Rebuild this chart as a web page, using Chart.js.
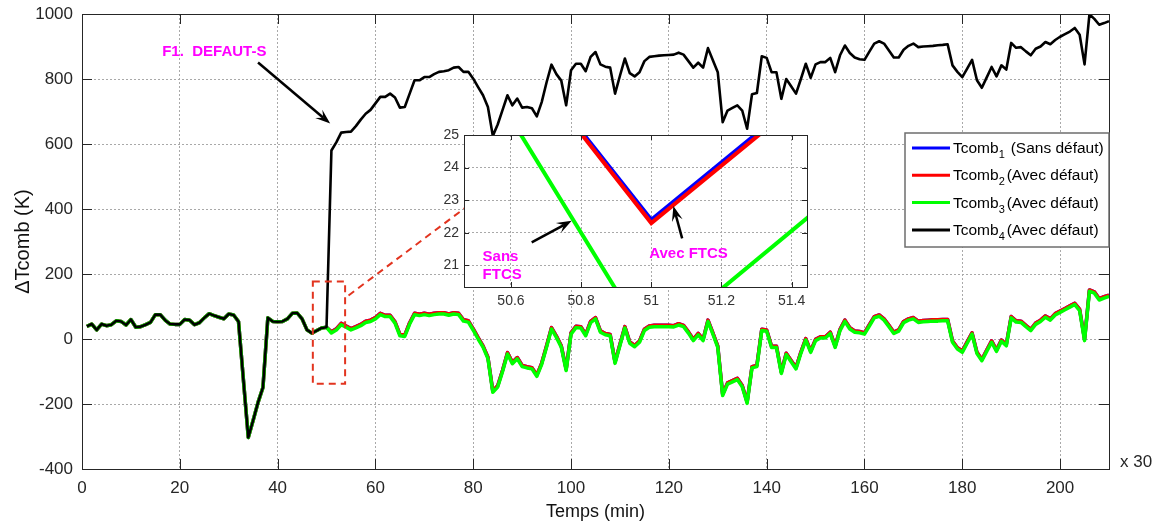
<!DOCTYPE html>
<html>
<head>
<meta charset="UTF-8">
<title>ΔTcomb</title>
<script src="https://cdn.jsdelivr.net/npm/chart.js"></script>
<style>
    body { margin: 0; background: #fff; }
    #cadre { position: relative; width: 1164px; height: 524px; }
    #principal { position: absolute; left: 0; top: 0; }
    #loupe { position: absolute; left: 400px; top: 120px; }
</style>
</head>
<body>
<div id="cadre">
    <canvas id="principal" width="1164" height="524"></canvas>
    <canvas id="loupe" width="430" height="200"></canvas>
</div>
<script>
// Pas de temps 1..210 (x 30 min)
const premierPas = 1;

// Valeurs communes aux quatre tcomb avant le défaut (pas 1..50)
const avantDefaut = [
    39, 46, 28, 46, 41, 44, 56, 54, 43, 60,
    36, 38, 44, 51, 75, 75, 58, 46, 45, 45,
    60, 58, 44, 50, 65, 78, 72, 67, 62, 77,
    74, 54, -125, -303, -250, -195, -149, 65, 54, 53,
    54, 62, 79, 80, 62, 28, 18, 26, 34, 36
];

// Pas 51..210
const tcomb1Apres = [
    22.4, 31.2, 48, 40, 32, 38, 45, 55, 58, 66,
    79, 73, 73, 53, 14, 12, 50, 79, 76, 79,
    76, 79, 81, 81, 77, 81, 79, 59, 56, 31,
    4, -21, -56, -160, -144, -96, -42, -72, -57, -81,
    -85, -88, -111, -74, -21, 35, 9, -21, -93, 19,
    39, 38, 14, 54, 66, 25, 17, 14, -71, -16,
    38, -9, -20, -6, 30, 40, 42, 42, 42, 42,
    41, 47, 42, 22, -1, 17, -1, 58, 19, -22,
    -170, -135, -128, -121, -143, -194, -85, -81, 30, 28,
    -22, -22, -102, -44, -66, -88, -40, 1, -37, -1,
    7, 7, 21, -22, 30, 58, 35, 25, 23, 19,
    44, 69, 74, 62, 42, 21, 28, 54, 62, 66,
    55, 57, 58, 59, 59, 60, 60, -6, -27, -37,
    -9, 19, -41, -63, -34, -6, -34, -3, -17, 69,
    56, 55, 42, 30, 49, 58, 71, 62, 78, 86,
    94, 102, 110, 91, -1, 151, 145, 124, 130, 135
];
const tcomb2Apres = [
    22.3, 31.1, 48, 40, 32, 38, 45, 55, 58, 66,
    79, 73, 73, 53, 14, 12, 50, 79, 76, 79,
    76, 79, 81, 81, 77, 81, 79, 59, 56, 31,
    4, -21, -56, -160, -144, -96, -42, -72, -57, -81,
    -85, -88, -111, -74, -21, 35, 9, -21, -93, 19,
    39, 38, 14, 54, 66, 25, 17, 14, -71, -16,
    38, -9, -20, -6, 30, 40, 42, 42, 42, 42,
    41, 47, 42, 22, -1, 17, -1, 58, 19, -22,
    -170, -135, -128, -121, -143, -194, -85, -81, 30, 28,
    -22, -22, -102, -44, -66, -88, -40, 1, -37, -1,
    7, 7, 21, -22, 30, 58, 35, 25, 23, 19,
    44, 69, 74, 62, 42, 21, 28, 54, 62, 66,
    55, 57, 58, 59, 59, 60, 60, -6, -27, -37,
    -9, 19, -41, -63, -34, -6, -34, -3, -17, 69,
    56, 55, 42, 30, 49, 58, 71, 62, 78, 86,
    94, 102, 110, 91, -1, 151, 145, 124, 130, 135
];
const tcomb3Apres = [
    18.5, 27.4, 44, 36, 28, 34, 41, 51, 54, 62,
    75, 69, 69, 49, 10, 8, 46, 75, 72, 75,
    72, 75, 77, 77, 73, 77, 75, 55, 52, 27,
    0, -25, -60, -164, -148, -100, -46, -76, -61, -85,
    -89, -92, -115, -78, -25, 31, 5, -25, -97, 15,
    35, 34, 10, 50, 62, 21, 13, 10, -75, -20,
    34, -13, -24, -10, 26, 36, 38, 38, 38, 38,
    37, 43, 38, 18, -5, 13, -5, 54, 15, -26,
    -174, -139, -132, -125, -147, -198, -89, -85, 26, 24,
    -26, -26, -106, -48, -70, -92, -44, -3, -41, -5,
    3, 3, 17, -26, 26, 54, 31, 21, 19, 15,
    40, 65, 70, 58, 38, 17, 24, 50, 58, 62,
    51, 53, 54, 55, 55, 56, 56, -10, -31, -41,
    -13, 15, -45, -67, -38, -10, -38, -7, -21, 65,
    52, 51, 38, 26, 45, 54, 67, 58, 74, 82,
    90, 98, 106, 87, -5, 147, 141, 120, 126, 131
];
const tcomb4Apres = [
    580, 605, 635, 637, 638, 655, 675, 693, 705, 725,
    745, 745, 755, 743, 712, 714, 755, 796, 796, 806,
    806, 815, 822, 824, 827, 835, 837, 822, 822, 801,
    775, 750, 714, 625, 660, 705, 750, 719, 740, 712,
    714, 710, 685, 729, 790, 844, 815, 795, 719, 827,
    847, 847, 824, 868, 883, 845, 838, 835, 755, 810,
    863, 818, 808, 821, 855, 868, 870, 872, 873, 874,
    875, 881, 875, 855, 835, 850, 835, 895, 858, 821,
    667, 703, 711, 719, 703, 647, 753, 757, 870, 865,
    821, 821, 739, 800, 778, 755, 800, 847, 804, 845,
    852, 852, 865, 821, 873, 903, 880, 866, 861, 859,
    884, 909, 916, 909, 888, 866, 866, 890, 902, 909,
    898, 900, 901, 902, 904, 905, 907, 842, 822, 806,
    832, 859, 796, 773, 805, 837, 808, 842, 829, 911,
    896, 898, 885, 873, 893, 900, 914, 907, 920, 930,
    938, 946, 957, 936, 845, 999, 985, 967, 972, 978
];

const etats = ['(Sans défaut)', '(Avec défaut)', '(Avec défaut)', '(Avec défaut)'];
const couleurs = ['#0000ff', '#ff0000', '#00ff00', '#000000'];

const ticksX = [0, 20, 40, 60, 80, 100, 120, 140, 160, 180, 200];
const ticksY = [-400, -200, 0, 200, 400, 600, 800, 1000];
const ticksXLoupe = [50.6, 50.8, 51, 51.2, 51.4];
const ticksYLoupe = [21, 22, 23, 24, 25];

const series = [
    avantDefaut.concat(tcomb1Apres),
    avantDefaut.concat(tcomb2Apres),
    avantDefaut.concat(tcomb3Apres),
    avantDefaut.concat(tcomb4Apres)
];

function enPoints(valeurs) {
    return valeurs.map((v, i) => ({ x: premierPas + i, y: v }));
}

const police = "'Liberation Sans', Arial, Helvetica, sans-serif";
Chart.defaults.font.family = police;

// ---- petites fonctions de dessin ----
function fleche(ctx, x0, y0, x1, y1) {
    const a = Math.atan2(y1 - y0, x1 - x0);
    const c = Math.cos(a), s = Math.sin(a);
    const L = 15, W = 5.5;
    ctx.save();
    ctx.strokeStyle = '#000';
    ctx.fillStyle = '#000';
    ctx.lineWidth = 2.5;
    ctx.beginPath();
    ctx.moveTo(x0, y0);
    ctx.lineTo(x1 - c * L * 0.6, y1 - s * L * 0.6);
    ctx.stroke();
    ctx.beginPath();
    ctx.moveTo(x1, y1);
    ctx.lineTo(x1 - c * L + s * W, y1 - s * L - c * W);
    ctx.lineTo(x1 - c * L * 0.6, y1 - s * L * 0.6);
    ctx.lineTo(x1 - c * L - s * W, y1 - s * L + c * W);
    ctx.closePath();
    ctx.fill();
    ctx.restore();
}

// cadre fermé + graduations vers l'intérieur
function cadre(chart, longueur) {
    const { ctx, chartArea: a, scales } = chart;
    ctx.save();
    ctx.strokeStyle = '#262626';
    ctx.lineWidth = 1;
    ctx.strokeRect(a.left + 0.5, a.top + 0.5, a.right - a.left, a.bottom - a.top);
    ctx.beginPath();
    scales.x.ticks.forEach(t => {
        const px = Math.round(scales.x.getPixelForValue(t.value)) + 0.5;
        ctx.moveTo(px, a.bottom); ctx.lineTo(px, a.bottom - longueur);
        ctx.moveTo(px, a.top); ctx.lineTo(px, a.top + longueur);
    });
    scales.y.ticks.forEach(t => {
        const py = Math.round(scales.y.getPixelForValue(t.value)) + 0.5;
        ctx.moveTo(a.left, py); ctx.lineTo(a.left + longueur, py);
        ctx.moveTo(a.right, py); ctx.lineTo(a.right - longueur, py);
    });
    ctx.stroke();
    ctx.restore();
}

function texteMagenta(ctx, txt, x, y) {
    ctx.save();
    ctx.font = 'bold 15px ' + police;
    ctx.fillStyle = '#ff00ff';
    ctx.textBaseline = 'middle';
    ctx.textAlign = 'left';
    ctx.fillText(txt, x, y);
    ctx.restore();
}

// largeur fixe de l'axe vertical, sans marge de débordement des étiquettes
function axeVertical(largeur) {
    return s => { s.width = largeur; s.paddingTop = 0; s.paddingBottom = 0; };
}

// ---- graphique principal ----
const zoneLoupe = { t0: 47.2, t1: 53.8, v0: -138, v1: 177 };
const liaison = { t0: 54.5, v0: 134, t1: 78.2, v1: 402 };
const defaut = { texte: 'F1.  DEFAUT-S', tTexte: 16.4, vTexte: 885, t0: 36.0, v0: 851, t1: 50.75, v1: 663 };

const decorPrincipal = {
    id: 'decorPrincipal',
    afterDatasetsDraw(chart) {
        const { ctx, chartArea: a, scales: { x, y } } = chart;
        cadre(chart, 10);

        // rectangle de la zone agrandie et trait de liaison
        ctx.save();
        ctx.strokeStyle = '#e2341f';
        ctx.lineWidth = 2;
        ctx.setLineDash([7, 5]);
        const rx0 = x.getPixelForValue(zoneLoupe.t0), rx1 = x.getPixelForValue(zoneLoupe.t1);
        const ry0 = y.getPixelForValue(zoneLoupe.v1), ry1 = y.getPixelForValue(zoneLoupe.v0);
        ctx.strokeRect(rx0, ry0, rx1 - rx0, ry1 - ry0);
        ctx.beginPath();
        ctx.moveTo(x.getPixelForValue(liaison.t0), y.getPixelForValue(liaison.v0));
        ctx.lineTo(x.getPixelForValue(liaison.t1), y.getPixelForValue(liaison.v1));
        ctx.stroke();
        ctx.restore();

        // annotation du défaut
        texteMagenta(ctx, defaut.texte, x.getPixelForValue(defaut.tTexte), y.getPixelForValue(defaut.vTexte));
        fleche(ctx, x.getPixelForValue(defaut.t0), y.getPixelForValue(defaut.v0),
            x.getPixelForValue(defaut.t1), y.getPixelForValue(defaut.v1));

        // multiplicateur de l'axe des temps
        ctx.save();
        ctx.font = '17px ' + police;
        ctx.fillStyle = '#262626';
        ctx.textBaseline = 'middle';
        ctx.fillText('x 30', a.right + 11, a.bottom - 7);
        ctx.restore();

        // légende
        const lw = 204, lh = 114;
        const lx = a.right - lw, ly = a.top + 119;
        ctx.save();
        ctx.fillStyle = '#fff';
        ctx.fillRect(lx, ly, lw, lh);
        ctx.strokeStyle = '#6e6e6e';
        ctx.lineWidth = 1.5;
        ctx.strokeRect(lx, ly, lw, lh);
        ctx.beginPath();
        ctx.rect(lx, ly, lw - 1, lh);
        ctx.clip();
        chart.data.datasets.forEach((ds, i) => {
            const cy = ly + 15 + i * 27.3;
            ctx.strokeStyle = ds.borderColor;
            ctx.lineWidth = 3;
            ctx.beginPath();
            ctx.moveTo(lx + 7, cy);
            ctx.lineTo(lx + 45, cy);
            ctx.stroke();
            ctx.fillStyle = '#000';
            ctx.textBaseline = 'alphabetic';
            ctx.font = '15.5px ' + police;
            ctx.fillText('Tcomb', lx + 48, cy + 5);
            const w = ctx.measureText('Tcomb').width;
            ctx.font = '11px ' + police;
            ctx.fillText(String(i + 1), lx + 48 + w, cy + 10);
            ctx.font = '15.5px ' + police;
            ctx.fillText(ds.label, lx + 48 + w + (i === 0 ? 12 : 8), cy + 5);
        });
        ctx.restore();
    }
};

const grille = { color: '#a9a9a9', lineWidth: 1, drawTicks: false };
const bordure = { display: false, dash: [2, 2] };

new Chart(document.getElementById('principal'), {
    type: 'line',
    data: {
        datasets: series.map((s, i) => ({
            label: etats[i],
            data: enPoints(s),
            borderColor: couleurs[i],
            backgroundColor: couleurs[i],
            borderWidth: i === 3 ? 2.6 : 3.5,
            borderJoinStyle: 'round',
            order: 3 - i
        }))
    },
    options: {
        responsive: false,
        animation: false,
        layout: { padding: { left: 0, top: 14, right: 55, bottom: 0 } },
        elements: { point: { radius: 0 }, line: { tension: 0 } },
        plugins: { legend: { display: false }, tooltip: { enabled: false } },
        scales: {
            x: {
                type: 'linear', min: 0, max: 210,
                afterFit: s => { s.height = 55; },
                afterBuildTicks: s => { s.ticks = ticksX.map(v => ({ value: v })); },
                grid: grille, border: bordure,
                ticks: { padding: 9, color: '#262626', font: { size: 17 }, maxRotation: 0, autoSkip: false, callback: v => String(v) },
                title: { display: true, text: 'Temps (min)', color: '#111', font: { size: 18 }, padding: { top: 0, bottom: 1 } }
            },
            y: {
                min: -400, max: 1000,
                afterFit: axeVertical(82),
                afterBuildTicks: s => { s.ticks = ticksY.map(v => ({ value: v })); },
                grid: grille, border: bordure,
                ticks: { padding: 9, color: '#262626', font: { size: 17 }, autoSkip: false, callback: v => String(v) },
                title: { display: true, text: 'ΔTcomb (K)', color: '#111', font: { size: 20 }, padding: { top: 11, bottom: 0 } }
            }
        }
    },
    plugins: [decorPrincipal]
});

// ---- agrandissement autour du pas 51 ----
const notesLoupe = {
    sans: { x: 50.519, y1: 21.27, y2: 20.71 },
    flecheSans: { x0: 50.659, y0: 21.71, x1: 50.773, y1: 22.37 },
    avec: { x: 50.994, y: 21.37 },
    flecheAvec: { x0: 51.088, y0: 21.83, x1: 51.063, y1: 22.82 }
};

const decorLoupe = {
    id: 'decorLoupe',
    beforeDraw(chart) {
        const { ctx, chartArea: a } = chart;
        ctx.save();
        ctx.fillStyle = '#fff';
        ctx.fillRect(a.left, a.top, a.right - a.left, a.bottom - a.top);
        ctx.restore();
    },
    afterDatasetsDraw(chart) {
        const { ctx, scales: { x, y } } = chart;
        cadre(chart, 5);
        const n = notesLoupe;
        texteMagenta(ctx, 'Sans', x.getPixelForValue(n.sans.x), y.getPixelForValue(n.sans.y1));
        texteMagenta(ctx, 'FTCS', x.getPixelForValue(n.sans.x), y.getPixelForValue(n.sans.y2));
        fleche(ctx, x.getPixelForValue(n.flecheSans.x0), y.getPixelForValue(n.flecheSans.y0),
            x.getPixelForValue(n.flecheSans.x1), y.getPixelForValue(n.flecheSans.y1));
        texteMagenta(ctx, 'Avec FTCS', x.getPixelForValue(n.avec.x), y.getPixelForValue(n.avec.y));
        fleche(ctx, x.getPixelForValue(n.flecheAvec.x0), y.getPixelForValue(n.flecheAvec.y0),
            x.getPixelForValue(n.flecheAvec.x1), y.getPixelForValue(n.flecheAvec.y1));
    }
};

new Chart(document.getElementById('loupe'), {
    type: 'line',
    data: {
        datasets: series.slice(0, 3).map((s, i) => ({
            label: etats[i],
            data: enPoints(s),
            borderColor: couleurs[i],
            borderWidth: 4,
            clip: 0,
            order: 3 - i
        }))
    },
    options: {
        responsive: false,
        animation: false,
        layout: { padding: { left: 0, top: 15, right: 23, bottom: 0 } },
        elements: { point: { radius: 0 }, line: { tension: 0 } },
        plugins: { legend: { display: false }, tooltip: { enabled: false } },
        scales: {
            x: {
                type: 'linear', min: 50.466, max: 51.444,
                afterFit: s => { s.height = 33; },
                afterBuildTicks: s => { s.ticks = ticksXLoupe.map(v => ({ value: v })); },
                grid: grille, border: bordure,
                ticks: { padding: 6, color: '#333', font: { size: 14 }, maxRotation: 0, autoSkip: false, callback: v => String(v) }
            },
            y: {
                min: 20.34, max: 25,
                afterFit: axeVertical(64),
                afterBuildTicks: s => { s.ticks = ticksYLoupe.map(v => ({ value: v })); },
                grid: grille, border: bordure,
                ticks: { padding: 5, color: '#333', font: { size: 14 }, autoSkip: false, callback: v => String(v) }
            }
        }
    },
    plugins: [decorLoupe]
});
</script>
</body>
</html>
